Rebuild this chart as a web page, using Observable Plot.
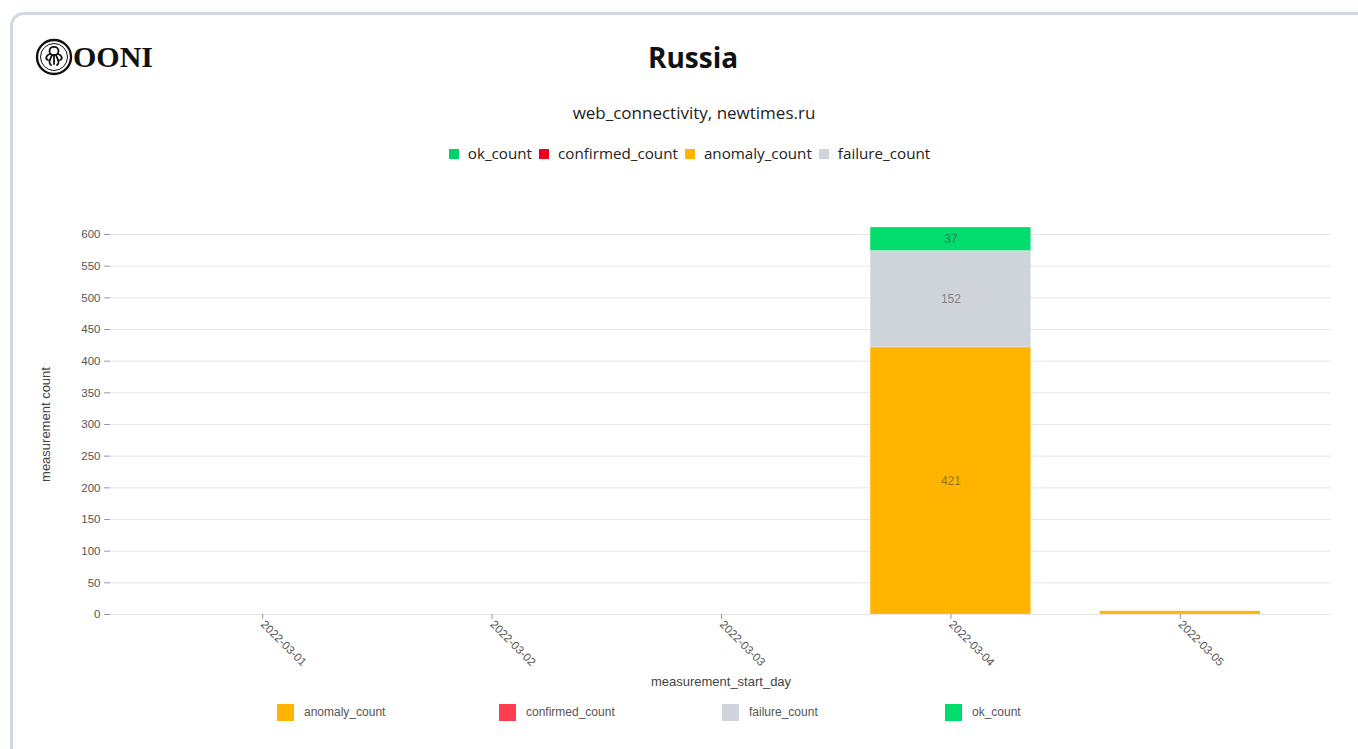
<!DOCTYPE html>
<html><head><meta charset="utf-8">
<script src="https://cdn.jsdelivr.net/npm/d3@7"></script>
<script src="https://cdn.jsdelivr.net/npm/@observablehq/plot@0.6"></script>
<style>
html,body{margin:0;padding:0;background:#fff;}
body{width:1358px;height:749px;overflow:hidden;position:relative;font-family:"Open Sans","Noto Sans",sans-serif;}
#card{position:absolute;left:10px;top:12px;width:1400px;height:800px;border:3px solid #d4d9df;border-radius:14px;box-sizing:border-box;}
#chart{position:absolute;left:0;top:0;}
.abs{position:absolute;white-space:nowrap;}
#title{left:0;width:1386px;top:38px;text-align:center;font-weight:700;font-size:28px;color:#111;}
#subtitle{left:0;width:1388px;top:101px;text-align:center;font-size:17px;color:#222;}
#toplegend{left:0;width:1379px;top:143px;text-align:center;font-size:15.2px;color:#222;}
#toplegend span.it{margin:0 3.5px;}
#toplegend i{display:inline-block;width:10px;height:10px;margin-right:9px;vertical-align:0px;}
#botlegend{left:0;top:703px;font-family:"Liberation Sans",Arial,sans-serif;font-size:12px;color:#555;}
#botlegend .it{position:absolute;top:0;}
#botlegend i{position:absolute;left:0;top:1px;width:17px;height:17px;}
#botlegend span{position:absolute;left:27px;top:2px;}
#logo{left:34px;top:38px;}
</style></head><body>
<div id="card"></div>
<div id="chart"></div>
<div id="logo" class="abs">
<svg width="130" height="40" viewBox="0 0 130 40">
  <circle cx="20" cy="19" r="17" fill="none" stroke="#111" stroke-width="2.4"/>
  <circle cx="20" cy="19" r="13.5" fill="none" stroke="#111" stroke-width="1"/>
  <g fill="none" stroke="#111" stroke-width="1.8" stroke-linecap="round">
    <ellipse cx="20" cy="13" rx="4.5" ry="4.2"/>
    <path d="M16 16 C12 17 11 21 14 22 M24 16 C28 17 29 21 26 22 M18 17 C16 22 14 25 17 27 M22 17 C24 22 26 25 23 27 M20 17 L20 26"/>
  </g>
  <text x="39" y="29" font-family="'Liberation Serif','DejaVu Serif',serif" font-weight="700" font-size="30" fill="#111">OONI</text>
</svg>
</div>
<div id="title" class="abs">Russia</div>
<div id="subtitle" class="abs">web_connectivity, newtimes.ru</div>
<div id="toplegend" class="abs"></div>
<div id="botlegend" class="abs"></div>
<script>
// ---- data ----
const days = ["2022-03-01", "2022-03-02", "2022-03-03", "2022-03-04", "2022-03-05"];
const anomalyCount = [0, 0, 0, 421, 5];
const confirmedCount = [0, 0, 0, 1, 0];
const failureCount = [0, 0, 0, 152, 0];
const okCount = [0, 0, 0, 37, 0];
const seriesNames = ["anomaly_count", "confirmed_count", "failure_count", "ok_count"];
const topLegendOrder = ["ok_count", "confirmed_count", "anomaly_count", "failure_count"];
const yTicks = [0, 50, 100, 150, 200, 250, 300, 350, 400, 450, 500, 550, 600];

// ---- styles ----
const barColors = ["#ffb400", "#ff3d50", "#ced4da", "#00dd6c"];
const topLegendColors = {ok_count: "#00d26a", confirmed_count: "#f0001c", anomaly_count: "#ffb400", failure_count: "#ced4da"};

const seriesValues = [anomalyCount, confirmedCount, failureCount, okCount];
const rows = [];
seriesNames.forEach((s, si) => days.forEach((d, di) => rows.push({day: d, series: s, value: seriesValues[si][di]})));

const W = 1358, H = 749;
const chart = Plot.plot({
  width: W, height: H,
  marginLeft: 110, marginRight: 27, marginTop: 234, marginBottom: 135,
  style: {background: "transparent", fontFamily: "'Liberation Sans', Arial, sans-serif", fontSize: "11.5px", color: "#555", overflow: "visible"},
  x: {domain: days, range: [147.5, 1294.5], paddingInner: 0.3, paddingOuter: 0.15, round: false},
  y: {domain: [0, 600]},
  color: {domain: seriesNames, range: barColors},
  marks: [
    Plot.gridY(yTicks, {stroke: "#e6e6e6", strokeOpacity: 1, strokeWidth: 1}),
    Plot.ruleY([0], {stroke: "#e6e6e6"}),
    Plot.barY(rows, {x: "day", y: "value", fill: "series", stroke: "white", strokeOpacity: 0.4, strokeWidth: 0.5}),
    Plot.text(rows, Plot.stackY({x: "day", y: "value", z: "series", text: d => d.value >= 10 ? String(d.value) : null, fill: "#3a3a3a", fillOpacity: 0.55, fontSize: 12})),
    Plot.axisY({ticks: yTicks, tickSize: 6, tickPadding: 4, stroke: "#999", fill: "#555", label: null}),
    Plot.axisY({ticks: [], label: "measurement count", labelAnchor: "center", labelOffset: 70, labelArrow: "none", fill: "#444", fontSize: 13}),
    Plot.axisX({tickRotate: 45, tickSize: 5, tickPadding: 3, stroke: "#999", fill: "#555", label: null}),
    Plot.axisX({ticks: [], label: "measurement_start_day", labelAnchor: "center", labelOffset: 71, labelArrow: "none", fill: "#444", fontSize: 13})
  ]
});
document.getElementById("chart").appendChild(chart);

// top legend
const tl = document.getElementById("toplegend");
topLegendOrder.forEach(s => {
  const it = document.createElement("span");
  it.className = "it";
  it.innerHTML = `<i style="background:${topLegendColors[s]}"></i>${s}`;
  tl.appendChild(it);
});
// bottom legend
const bl = document.getElementById("botlegend");
const botX = [277, 499, 722, 945];
seriesNames.forEach((s, i) => {
  const it = document.createElement("div");
  it.className = "it";
  it.style.left = botX[i] + "px";
  it.innerHTML = `<i style="background:${barColors[i]}"></i><span>${s}</span>`;
  bl.appendChild(it);
});
</script>
</body></html>
